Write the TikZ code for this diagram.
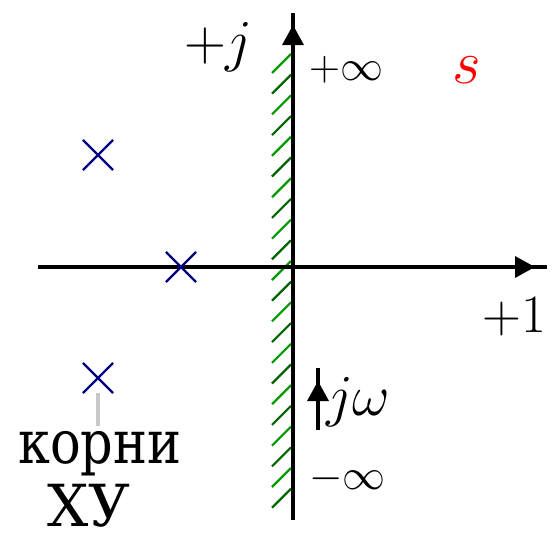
\RequirePackage{fix-cm}
\documentclass[tikz,border=0pt]{standalone}
\usepackage{fontspec}
\newfontfamily\rootfont{DejaVu Serif}
\usepackage{tikz}
\usetikzlibrary{arrows.meta,shapes.misc}
\definecolor{clPole}{HTML}{000080}
\definecolor{clHatchA}{HTML}{009900}
\definecolor{clHatchB}{HTML}{006600}
\definecolor{clLead}{HTML}{C8C8C8}
\definecolor{clPlane}{HTML}{FF0000}
\tikzset{
  axis/.style={line width=3.5pt, draw=black},
  axistip/.style={-{Triangle[length=20pt,width=21pt]}, line width=3.5pt, draw=black},
  hatch/.style={line width=2.2pt},
  pole/.style={cross out, draw=clPole, fill=white, line width=2.2pt,
               minimum size=28pt, inner sep=0pt},
  lead/.style={line width=4pt, draw=clLead},
  biglbl/.style={inner sep=0pt, font=\fontsize{58}{60}\selectfont},
  smalllbl/.style={inner sep=0pt, font=\fontsize{43}{45}\selectfont},
  rootlbl/.style={inner sep=0pt, anchor=base, text depth=0pt},
}

\begin{document}
\begin{tikzpicture}[x=1pt, y=-1pt]
  \useasboundingbox (0,0) rectangle (552,541);
  \coordinate (xl) at (38,267); \coordinate (xr) at (547,267); \coordinate (xtip) at (535,267);
  \coordinate (yb) at (293,520); \coordinate (yt) at (293,13); \coordinate (ytip) at (293,25);
  \coordinate (o) at (293,267);
  \foreach \i in {0,...,21}{
    \pgfmathsetmacro\yy{54+20.7*\i}
    \ifodd\i \def\hc{clHatchB}\else \def\hc{clHatchA}\fi
    \draw[hatch, draw=\hc] (291,\yy) -- (272,\yy+19);
  }
  \draw[axis] (xl) -- (xr); \draw[axistip] (o) -- (xtip);
  \draw[axis] (yb) -- (yt); \draw[axistip] (o) -- (ytip);
  \coordinate (wb) at (318,430); \coordinate (wt) at (318,368); \coordinate (wtip) at (318,381);
  \draw[line width=3.5pt] (wb) -- (wt); \draw[axistip] (wb) -- (wtip);
  \node[pole] (p1) at (98,155) {};
  \node[pole] (p2) at (181,267) {};
  \node[pole] (p3) at (98,378) {};
  \coordinate (leadend) at (98,426);
  \draw[lead] (p3) -- (leadend);
  \node[biglbl, anchor=base west] (imag) at (184,60) {$+j$};
  \node[smalllbl, anchor=base west] (pinf) at (309,80) {$+\infty$};
  \node[smalllbl, anchor=base west] (minf) at (309,489) {$-\infty$};
  \node[biglbl, anchor=base west, font=\fontsize{54}{56}\selectfont] (real) at (482,332) {$+1$};
  \node[biglbl, anchor=base west] (omega) at (326,415) {$j\omega$};
  \node[biglbl, anchor=base west, text=clPlane, font=\fontsize{62}{64}\selectfont] (plane) at (452,83) {$s$};
  \node[rootlbl, font=\rootfont\fontsize{51}{53}\selectfont] (roots) at (100,463) {\scalebox{1}[1.18]{корни}};
  \node[rootlbl, font=\rootfont\fontsize{58}{60}\selectfont] (chareq) at (89,526) {ХУ};
\end{tikzpicture}
\end{document}
